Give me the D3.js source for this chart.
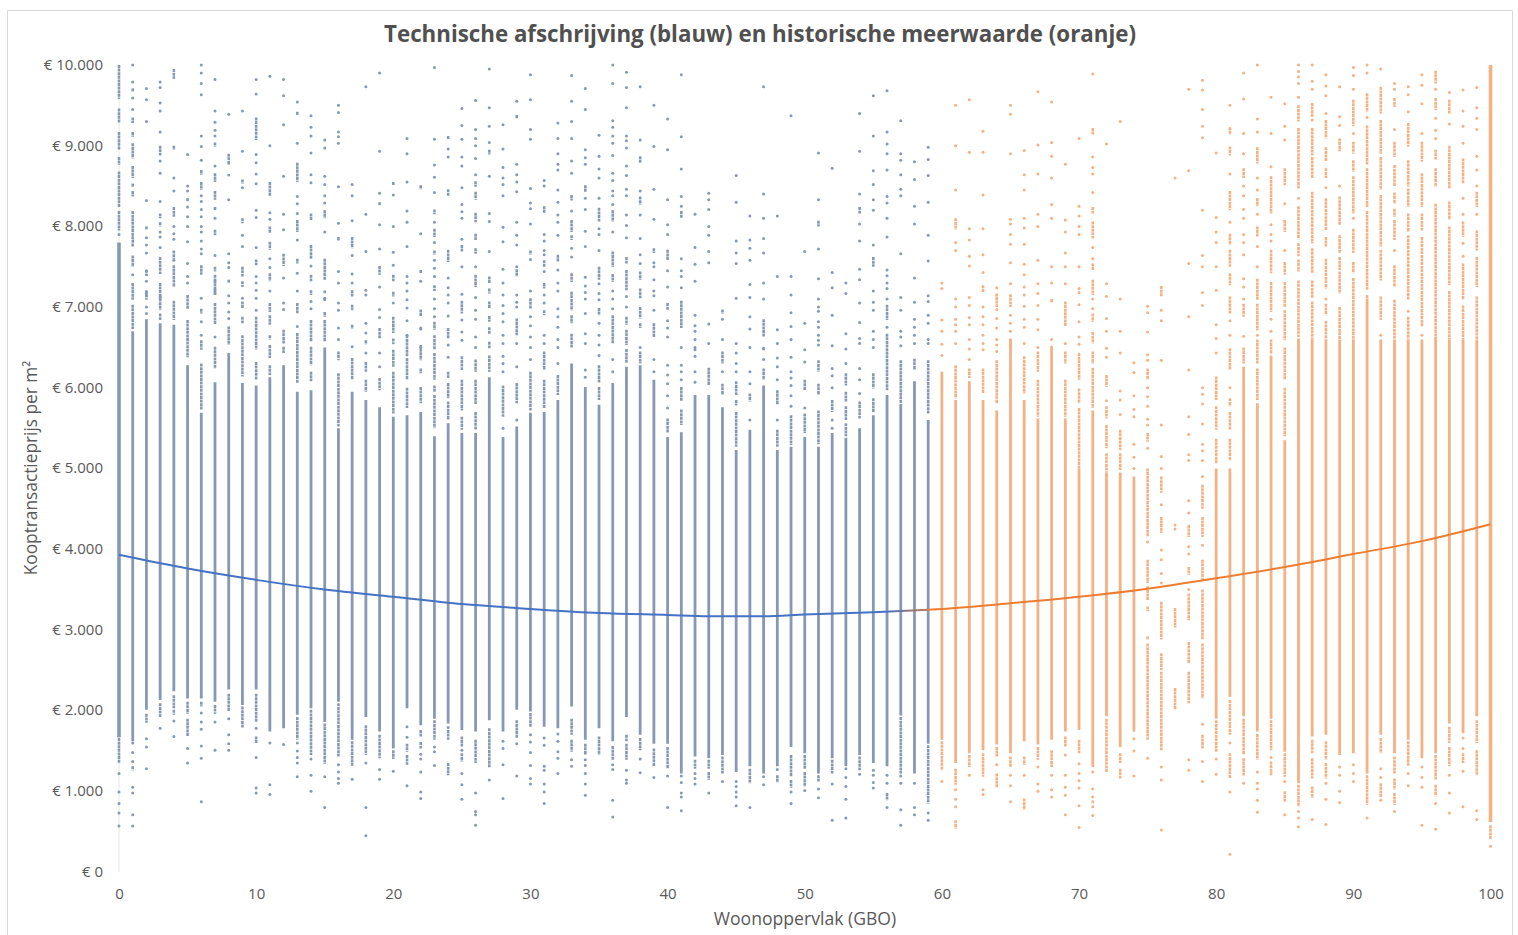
<!DOCTYPE html>
<html lang="nl">
<head>
<meta charset="utf-8">
<title>Technische afschrijving en historische meerwaarde</title>
<script src="https://cdn.jsdelivr.net/npm/d3@7"></script>
<style>
html,body{margin:0;padding:0;background:#fff;overflow:hidden}
svg{display:block}
text{font-family:"Open Sans",sans-serif;fill:#595959}
</style>
</head>
<body>
<svg id="c" width="1518" height="935"></svg>
<script>
// All values: euro per m2, in thousands. Index of each list = GBO (m2).
const titleText = "Technische afschrijving (blauw) en historische meerwaarde (oranje)";
const xTitle = "Woonoppervlak (GBO)";
const yTitle = "Kooptransactieprijs per m²";
const xTicks = [0,10,20,30,40,50,60,70,80,90,100];
const yTicks = [0,1,2,3,4,5,6,7,8,9,10];
const orangeFrom = 60;

// solid part of each column (null = no solid part)
const bandTop = [7.8,6.7,6.85,6.8,6.78,6.28,5.69,6.07,6.43,6.06,6.03,6.13,6.28,5.95,5.97,6.5,5.5,5.95,5.85,5.76,5.64,5.66,5.7,5.4,5.56,5.44,5.44,6.13,5.39,5.52,5.69,5.7,5.85,6.3,6.01,5.79,6.06,6.26,6.28,6.1,5.39,5.45,5.91,5.91,5.76,5.23,5.48,6.03,5.23,5.27,5.39,5.27,5.44,5.38,5.5,5.66,5.91,5.8,6.08,5.6,
6.2,5.85,6.08,5.85,5.72,6.61,5.85,5.62,6.52,5.62,5.0,5.72,4.95,4.95,4.9,null,null,null,null,null,5.0,5.0,6.26,5.81,6.4,5.35,6.61,6.6,6.6,6.6,6.6,7.1,6.6,6.6,6.6,6.6,6.63,6.6,6.6,6.6,10];
const bandBottom = [1.67,1.62,2.01,2.13,2.24,2.15,2.15,2.11,2.26,2.07,2.26,1.74,1.78,1.95,2.03,1.86,2.11,1.64,1.92,1.74,1.53,2.03,1.82,1.9,1.84,1.76,1.74,1.88,1.74,2.01,1.99,1.8,1.78,2.05,1.64,1.78,1.62,1.92,1.7,1.59,1.59,1.22,1.43,1.41,1.45,1.24,1.31,1.22,1.31,1.55,1.47,1.22,1.41,1.31,1.45,1.35,1.31,1.94,1.22,1.59,
1.64,1.35,1.47,1.51,1.58,1.47,1.62,1.58,1.64,1.74,1.76,1.3,1.93,1.55,1.74,null,null,null,null,null,1.9,2.17,1.93,1.74,1.9,1.49,1.1,1.68,1.7,1.45,1.47,1.22,1.7,1.47,1.64,1.41,1.47,1.84,1.72,1.93,0.62];

// marks above the solid part: a number is one dot, a pair is a short run of dots
const upperMarks = [
[[10,9.58],[9.46,9.28],[9.17,8.95],[8.86,8.76],[8.68,8.24],[8.19,7.95],7.9],
[10,9.79,[9.71,9.67],9.59,9.45,[9.35,9.28],[9.17,9.11],[9.03,8.84],[8.75,8.6],[8.53,8.49],[8.44,8.37],[8.19,7.75],[7.64,7.5],7.4,[7.3,7.09],[7.03,6.73]],
[9.71,9.57,9.3,8.32,[8,7.96],7.86,7.77,7.67,7.45,7.4,[7.2,7.09],7.44,7.32,[7.21,7.13],7,6.92],
[9.79,9.72,9.53,9.43,9.17,[9,8.88],8.81,8.66,8.31,[8.16,8.1],[8.05,8],7.93,7.87,7.74,[7.62,7.41],[7.3,7.09],[7.15,6.96],[6.92,6.84]],
[[9.95,9.83],[9,8.95],8.6,8.44,[8.24,8.12],8,7.91,7.84,[7.7,7.6],7.58,[7.52,7.25],[7.08,6.84]],
[8.89,8.5,8.44,[8.35,8.31],8.24,8.12,8,7.81,7.54,7.38,7.3,[7.15,6.97],[6.84,6.38]],
[10,9.9,9.77,9.63,9.12,8.99,8.82,[8.7,8.64],[8.55,8.45],8.38,8.31,8.21,8.12,8,7.93,7.82,7.72,7.66,[7.52,7.4],7.11,[6.98,6.92],6.82,6.65,[6.59,6.47],[6.3,5.73]],
[9.82,9.43,9.29,9.19,9.12,[9.04,8.99],8.75,[8.66,8.55],[8.44,8.33],[8.24,8.2],8.1,[7.96,7.89],7.64,[7.5,7.44],[7.4,7.3],[7.23,7.15],[7.34,7.15],[7.05,6.78],6.63,[6.51,6.24]],
[9.39,[8.9,8.76],[8.65,8.62],8.33,7.66,7.55,7.49,[7.34,7.3],7.14,7.05,6.94,6.86,[6.76,6.53]],
[9.43,8.93,[8.58,8.53],8.48,[8.1,8.04],7.89,7.75,[7.5,7.38],[7.32,7.25],7.11,[7.07,6.98],[6.88,6.8],[6.65,6.14]],
[9.82,9.64,[9.35,9.07],8.89,8.79,8.65,8.53,8.2,8.11,7.74,[7.59,7.52],7.38,7.3,7.21,7.11,6.96,[6.88,6.47],[6.32,6.1]],
[9.86,9,[8.55,8.37],8.17,8.09,[8,7.92],[7.81,7.71],7.6,7.49,[7.42,7.32],7.2,[7.05,6.94],[6.9,6.78],[6.65,6.6],[6.53,6.37],[6.28,6.16]],
[9.82,9.62,9.26,8.62,8.15,7.96,[7.66,7.51],7.36,7.05,6.97,[6.72,6.55],[6.51,6.43]],
[9.54,[9.42,9.38],9.03,[8.79,8.55],8.37,8.28,8.16,[8.08,7.93],7.83,[7.6,7.54],7.42,7.2,[7.05,6.92],6.76,[6.68,6.06]],
[9.37,9.23,9.12,8.91,8.64,8.54,[8.16,8.08],[7.77,7.6],7.51,[7.4,7.32],[7.21,7.15],7.07,6.98,[6.84,6.57],[6.51,6.28],[6.2,6.08]],
[9.07,8.97,8.62,8.52,8.38,8.29,[8.2,8.1],7.93,[7.6,7.34],7.19,7.11,7.09,[6.94,6.88],[6.84,6.57]],
[9.5,9.41,9.17,9.11,9.03,8.49,8.04,[7.87,7.82],7.44,7.3,7.05,6.96,6.74,6.6,[6.45,6.34],[6.18,5.52]],
[8.52,8.38,8.07,[7.87,7.73],7.64,7.41,7.3,[7.21,7.13],[7.03,6.96],[6.78,6.73],6.51,[6.37,6.1]],
[9.73,8.15,7.69,7.21,7.15,6.8,6.68,[6.59,6.54],6.43,[6.32,6.2],[6.1,5.95]],
[9.9,8.93,8.41,[8.3,8.26],8.02,7.72,[7.51,7.4],7.25,6.97,6.87,[6.74,6.61],6.43,6.26,[6.12,5.97]],
[[8.55,8.51],8.39,8,7.68,7.52,[7.4,7.32],[7.19,7.13],7.05,[6.88,6.68],[6.61,6.54],[6.47,6.26],[6.2,5.68]],
[9.09,8.9,8.55,8.19,8.05,7.75,7.38,7.3,7.2,7.09,6.99,6.83,6.65,[6.65,6.39],[6.37,6.1],[6,5.75]],
[[8.51,8.46],7.91,[7.46,7.42],7.32,[6.97,6.88],6.73,6.5,6.74,[6.53,6.34],[6.24,6.18],[6.01,5.81]],
[9.97,9.08,8.76,8.61,8.42,[8.21,8.15],8.05,[7.97,7.87],7.8,[7.7,7.65],7.58,7.48,7.38,[7.27,7.2],7.1,6.98,6.88,[6.82,6.72],[6.65,6.47],[6.43,6.1],[6.03,5.95],[5.91,5.5]],
[[9.12,9.08],8.96,8.86,[8.46,8.38],[7.71,7.56],7.36,7.24,7.15,7.05,6.89,[6.74,6.61],6.53,6.38,[6.2,6.12],[6.06,5.87],[5.83,5.6]],
[9.46,9.25,9.08,8.86,8.75,8.48,8.27,8.18,8.1,7.84,[7.77,7.69],7.5,7.16,[7.08,6.92],6.84,6.69,6.59,[6.39,6.22],[6.1,5.72],[5.64,5.48]],
[9.56,9.2,9.09,9,8.84,8.64,[8.56,8.49],[8.43,8.33],[8.17,8.05],[7.91,7.83],[7.73,7.66],7.5,[7.4,7.25],7.12,6.96,6.85,6.63,6.5,[6.35,6.2],[6.1,5.8],[5.7,5.48]],
[9.95,9.47,9.24,9.04,[8.95,8.89],8.62,8.16,8.06,7.69,[7.38,7.3],[7.23,7.17],[7.07,6.98],[6.89,6.82],[6.75,6.67],[6.57,6.49],[6.4,6.2]],
[9.26,8.96,8.73,8.6,8.52,8.38,7.99,7.81,7.47,7.3,7.15,7.02,6.92,6.82,6.65,6.55,6.39,6.3,6.2,[6.03,5.64],5.5],
[9.55,[9.38,9.33],8.77,8.64,8.55,8.43,8.05,7.89,7.77,7.5,[7.47,7.38],7.15,7.06,7,[6.86,6.65],6.55,6.26,[6.06,5.81],5.6],
[9.88,9.57,9.2,9.08,8.47,8.29,8.22,8.03,[7.7,7.65],7.59,7.2,[7.11,6.98],6.88,6.77,6.63,6.5,6.35,[6.2,5.72]],
[8.57,8.5,[8.25,8.16],7.9,7.82,7.7,7.65,[7.58,7.5],7.44,[7.3,7.23],7.15,7.05,[6.96,6.9],6.65,6.55,[6.45,6.22],[6.1,5.75]],
[9.28,9.09,8.9,8.77,8.7,8.45,8.3,8.14,8.05,7.89,[7.65,7.56],7.46,7.3,7.2,6.98,6.88,6.75,6.6,6.5,6.3,[6.16,5.91]],
[9.87,9.55,9.3,9.09,8.81,8.66,[8.39,8.32],8.19,[8.08,7.93],[7.89,7.83],7.73,7.62,[7.42,7.31],[7.19,6.96],[6.9,6.8],[6.67,6.5]],
[9.71,9.45,8.95,8.85,8.77,[8.51,8.43],8.35,8.21,7.94,7.75,7.37,7.26,7.18,7.1,6.92,6.67,6.55,6.22,6.13],
[9.13,8.87,8.71,8.6,8.35,[8.23,8.06],7.97,7.9,7.7,[7.5,7.34],7.29,7.17,7.09,[6.99,6.9],6.8,6.65,6.53,6.4,[6.28,6.06],[6.01,5.85]],
[10,9.77,9.31,9.23,9.12,9.03,8.88,8.66,8.57,8.44,8.38,8.27,[8.2,8.06],7.93,[7.69,7.5],[7.41,7.31],7.2,7.1,6.98,[6.9,6.55],6.35,6.2],
[9.91,9.72,9.47,9.12,9.06,8.97,8.75,8.63,8.46,8.38,8.14,8.01,7.86,[7.62,7.54],[7.46,7.21],7.13,7,[6.88,6.78],[6.72,6.53],[6.48,6.3]],
[9.73,9.07,[8.87,8.78],8.44,[8.37,8.27],8.14,7.85,7.65,7.54,[7.44,7.34],[7.23,7.11],[7,6.86],[6.8,6.74],6.5,[6.45,6.3]],
[9.5,8.99,8.46,8.09,[7.73,7.67],7.55,7.5,7.34,7.2,7.14,6.96,[6.8,6.63],6.35,6.2],
[9.33,8.95,8.33,8.02,7.9,[7.71,7.58],7.45,7.25,[7.05,6.96],6.83,6.74,6.63,6.28,6.16,6.05,5.9,5.75,[5.62,5.44]],
[9.88,9.11,8.71,8.37,8.25,[8.19,8.1],7.6,7.45,7.38,7.24,[7.08,6.74],6.5,6.28,6.2,6.1,[6.01,5.83],[5.73,5.54]],
[8.15,7.74,7.53,7.32,6.9,6.77,6.7,6.6,6.5,6.47,6.39,6.2,6.07],
[8.41,8.33,8.21,8,7.89,7.69,7.55,6.79,6.55,[6.25,6.03]],
[[6.97,6.92],6.85,6.6,[6.45,6.3],6.2,[6.05,5.91]],
[8.63,8.3,7.82,7.67,7.54,7.11,6.55,6.43,6.3,6.2,[6.08,5.91],[5.85,5.78],[5.7,5.27]],
[8.13,7.83,7.73,7.58,7.28,7.12,6.88,6.73,6.5,6.2,6.05,[5.93,5.83],5.6],
[9.73,8.4,8.1,7.85,7.67,7.3,7.1,[6.85,6.63],6.48,6.49,6.35,[6.24,6.1]],
[8.13,7.38,6.72,6.55,6.37,6.26,6.1,[5.97,5.79],5.6,[5.48,5.27]],
[9.37,7.38,7.15,6.93,6.76,6.6,6.38,6.2,6.12,6.03,5.9,5.77,[5.66,5.29]],
[7.69,6.8,6.47,6.32,[6.1,5.97],5.75,[5.68,5.44]],
[8.91,8.33,[8.07,8],7.72,7.35,7.1,7,6.95,6.82,6.75,6.65,6.59,6.53,[6.34,6.2],[6.05,5.91],[5.72,5.3]],
[8.72,7.43,7.24,6.9,6.52,6.24,6.15,6,[5.85,5.7],5.6,5.5],
[7.3,7.17,6.67,6.48,6.3,[6.18,6.03],[5.95,5.83],[5.77,5.6],[5.56,5.4]],
[9.4,8.93,8.4,[8.24,8.16],8.03,7.82,7.47,7.34,7.05,6.81,6.61,6.55,6.24,6.1,5.93,[5.83,5.62]],
[9.62,9.12,8.69,8.52,8.33,8.2,7.77,[7.62,7.5],7.2,7.06,6.96,6.7,6.6,6.5,[6.18,5.99],[5.87,5.7]],
[9.68,9.17,9.02,8.9,8.7,8.37,8.29,8.1,7.87,7.46,7.39,7.3,7.23,7.1,[7.03,6.84],6.75,[6.67,5.97]],
[9.31,8.9,8.82,8.64,8.46,8.38,7.66,7.12,6.96,6.7,6.63,6.52,[6.34,5.81]],
[8.8,8.58,8.25,8.03,7.36,7.06,6.85,6.75,6.65,6.55,[6.36,6.22]],
[8.98,8.83,8.63,8.3,7.89,7.57,7.14,7.07,6.9,6.8,6.6,6.55,[6.34,5.68]],
[7.3,7.23,6.84,6.7,6.54,6.4],
[9.5,9,8.45,[8.1,7.96],7.8,7.7,7.1,7,6.85,6.78,6.7,6.55,[6.28,5.87]],
[9.57,8.92,7.97,7.83,7.63,7.51,7.12,7.02,6.87,6.78,6.6,6.48,6.35,[6.24,6.12]],
[9.18,8.92,8.39,7.97,7.65,7.43,[7.27,7.18],7,6.88,6.78,6.65,6.55,6.47,[6.24,5.93]],
[7.24,[7.17,7],6.97,6.86,6.74,6.6,6.53,6.45,[6.34,5.81]],
[9.5,9.39,8.9,8.09,8.03,7.9,7.78,7.55,7.29,[7.16,7],6.9,6.8,6.7,[6.59,6.47]],
[8.94,8.64,8.45,8.1,7.98,7.78,7.53,7.4,7.25,7.15,7.01,6.85,6.75,6.55,[6.39,5.93]],
[9.67,9.01,8.65,8.15,8,7.58,7.29,7.17,7.02,6.85,6.72,6.5,[6.45,6.2],[6.1,5.64]],
[9.54,9.04,8.87,8.6,8.27,8.1,7.5,7.3,6.6,[7.1,7.05]],
[8.77,8.08,7.93,7.67,7.5,7.29,[7.07,6.76],6.55,[6.45,6.3],[6.1,5.64]],
[9.09,8.25,8.13,8,7.9,7.5,7.23,7.18,7.03,6.82,6.63,6.54,[6.43,6.1],[5.99,5.81],[5.75,5]],
[9.89,[9.22,9.13],8.86,8.73,8.65,8.42,[8.24,8.16],[8.06,7.85],7.74,7.6,[7.54,7.46],[7.34,7.15],7.1,6.98,[6.92,6.82],[6.69,6.55],[6.45,6.3],[6.25,5.75]],
[9.02,7.29,7.13,6.86,6.7,6.49,6.38,[6.16,6.01],5.84,[5.77,5.62],[5.54,5.25],[5.19,4.95]],
[9.3,7.1,6.7,6.43,5.96,5.85,5.67,[5.48,5.23],[5.19,4.98]],
[6.31,6.19,5.9,5.73,5.64,5.3,5.14,5],
[7.01,6.93,6.69,6.41,6.34,[6.24,6.1],6,5.89,5.77,5.61,5.54,[5.44,5.33],5.25,[5,4.15],4.09,[3.87,3.58],[3.54,3.37],[3.29,3.23],[2.92,2.88],[2.83,1.64],1.41],
[[7.26,7.13],6.96,6.83,6.34,5.54,5.15,5,[4.9,4.7],4.55,[4.4,4.2],3.99,3.87,3.7,3.58,[3.35,2.88],[2.71,2.5],[2.48,1.51],1.3,1.14,0.52],
[8.6,4.3,4.25,[3.27,3.03],[2.28,2.01]],
[9.7,8.69,7.54,6.88,6.22,5.64,5.42,5.17,5.1,4.6,4.45,[4.3,4.15],4.03,3.94,[3.78,3.68],3.5,[3.45,3.12],[2.85,2.59],[2.48,2.09],1.39,1.26],
[9.81,9.69,9.45,9.24,9.1,8.2,7.64,7.5,7.18,7.02,6,5.92,5.8,5.55,5.3,5.22,5.1,4.9,[4.8,4.5],[4.4,4.15],4.05,[3.87,3.6],[3.5,2.88],[2.83,2.15],1.83,[1.7,1.53],1.37,1.12],
[8.91,8.11,7.93,7.8,7.5,7.21,6.78,6.61,6.43,[6.14,5.85],[5.77,5.48],[5.37,5.06]],
[9.5,[9.23,9.14],[8.99,8.88],8.65,[8.44,8.2],8.05,[7.91,7.77],[7.71,7.5],[7.42,7.27],[7.13,6.92],6.83,6.65,[6.49,6.22],6,[5.87,5.77],[5.7,5.48],[5.37,5.1]],
[9.9,9.58,9.15,8.9,[8.72,8.6],8.5,8.38,8.21,8.1,7.9,7.8,7.65,7.35,7.25,7.1,[7.04,6.88],6.64,[6.5,6.3]],
[10,9.33,9.17,[8.98,8.78],8.6,8.45,[8.35,8.25],8.15,[8,7.87],7.75,7.5,[7.35,7.09],[7.04,6.71],6.65,[6.6,6.3],[6.24,5.85]],
[9.6,9.15,8.74,[8.62,8.16],8.02,7.9,7.82,[7.71,7.42],[7.31,6.94],6.85,6.7,[6.6,6.42]],
[9.52,9.24,9.07,[8.72,8.51],8.28,[8.08,7.93],7.7,[7.56,7.4],[7.31,7],[6.96,6.59],[6.5,6.1],[6,5.4]],
[10,9.92,9.85,9.77,9.6,[9.5,9.3],[9.22,8.47],8.35,[8.25,7.84],[7.79,7.63],[7.59,7.44],[7.33,6.63]],
[10,9.8,9.7,[9.53,9.36],9.32,[9.22,8.88],[8.86,8.6],[8.43,7.79],[7.73,7.42],[7.33,7.11],[7.07,6.6]],
[9.88,9.74,9.62,9.4,[9.32,9.09],[8.98,8.8],[8.72,8.6],8.48,[8.35,7.95],[7.87,7.75],[7.6,7.23],7.1,[7.04,6.9],[6.83,6.6]],
[9.73,9.36,9.25,[9.09,8.93],8.5,[8.37,8.02],[7.89,7.67],[7.62,7.46],[7.44,7.17],[7,6.6]],
[9.97,9.87,9.7,[9.57,9.24],9.15,[9.05,8.9],[8.82,8.68],[8.62,8.16],8.1,[7.97,7.67],[7.56,7.42],[7.36,6.6]],
[10,9.9,[9.65,9.42],9.35,[9.25,8.76],[8.72,8.24],[8.19,7.21],[7.15,7.1]],
[9.95,[9.73,9.4],[9.32,8.9],[8.86,8.45],[8.39,7.75],[7.71,7.33],[7.13,6.84],6.65],
[9.77,9.7,[9.59,9.48],9.2,[9.05,8.86],[8.76,8.49],[8.42,8.28],[8.22,8.12],[8.08,7.83],7.7,[7.52,7.25],[7.09,6.6]],
[9.73,9.63,9.42,[9.28,8.99],[8.82,8.49],[8.47,8.24],[8.16,7.93],[7.89,7.09],6.95,[6.88,6.6]],
[9.88,9.75,9.52,9.15,[9.05,8.8],[8.66,8.24],[8.16,7.95],[7.87,6.76],6.65],
[[9.93,9.77],9.7,[9.59,9.44],9.34,9.19,9.09,[8.95,8.83],[8.72,8.49],[8.28,6.63]],
[9.66,[9.57,9.4],9.27,[9,8.47],[8.31,8.08],[8,7.27],[7.2,6.6]],
[9.69,9.43,9.24,9.03,[8.84,8.53],8.35,8.15,[8.06,7.87],7.79,7.63,[7.54,7.09],[7.02,6.6]],
[9.72,9.47,9.34,9.2,8.87,8.7,8.5,[8.43,8.24],8.15,[7.95,7.7],[7.62,7.25],[7.13,6.6]],
[]
];

// marks below the solid part
const lowerMarks = [
[[1.66,1.35],1.22,0.99,0.85,0.73,0.57],
[1.6,1.48,1.37,[1.31,1.26],1.05,0.98,0.71,0.57],
[[1.96,1.85],1.65,1.55,1.28],
[[2.09,1.92],1.78],
[[2.19,2.03],[2.01,1.95],1.87,1.68],
[[2.11,1.96],[1.9,1.68],1.53,1.35],
[[2.11,2.05],1.97,1.86,1.77,1.56,1.41,0.87],
[[2.07,1.96],1.86,1.51],
[[2.21,1.99],1.9,1.7,1.59,1.51],
[[2.05,1.79]],
[[2.21,1.86],1.78,[1.68,1.6],1.42,1.04,0.98],
[1.6,1.08,0.96],
[1.58],
[[1.92,1.64],1.6,1.5,1.42,1.35,1.18],
[[2.01,1.45],1.4,1.2,1],
[[1.84,1.34],1.18,0.8],
[[2.09,1.43],1.33,1.24,1.16,1.1],
[[1.62,1.31],1.15],
[[1.82,1.45],1.35,0.8,0.45],
[[1.7,1.41],1.27,1.15],
[[1.51,1.4],1.25],
[1.8,1.67,[1.59,1.49],[1.45,1.33],1.07],
[[1.76,1.68],[1.61,1.53],1.46,1.4,1.24,0.99,0.91],
[[1.88,1.64],1.55,1.49,1.32],
[1.79,[1.76,1.64],[1.35,1.2]],
[[1.68,1.55],1.51,[1.47,1.37],1.22,1.08,0.9],
[[1.64,1.35],0.98,0.75,0.71,0.58],
[[1.78,1.29],1.14],
[1.62,1.53,1.33,0.91],
[[1.88,1.66],1.59,1.19],
[[1.97,1.8],1.7,1.61,1.48,1.32,1.16,1.09],
[1.66,1.57,1.31,1.26,1.09,0.99,0.85],
[1.71,1.62,1.49,1.41,1.22],
[[1.9,1.7],[1.64,1.49],1.39,1.31],
[[1.59,1.45],1.39,1.32,1.22,1.09,0.95],
[[1.68,1.45]],
[[1.56,1.39],1.33,1.27,0.89,0.68],
[[1.7,1.62],[1.59,1.39],1.26,1.14,1.1],
[[1.66,1.51],1.4,1.23],
[[1.53,1.31],1.17],
[[1.55,1.28],1.19,0.8],
[1.19,1.11,0.98,0.93,0.76],
[[1.39,1.28],1.22,1.16,1.09],
[[1.39,1.28],[1.24,1.14],0.98],
[[1.43,1.22],1.12],
[1.12,1.06,0.99,0.93,0.82],
[[1.28,1.1],0.8],
[1.18,1.08],
[1.27,[1.2,1.11]],
[[1.45,1.18],[1.14,1.04],0.99,0.85],
[[1.45,1.28],[1.24,1.06],1.01],
[[1.2,1.12],1.03,0.92],
[[1.39,1.22],1.09,0.64],
[1.28,1.17,1.06,0.9,0.67],
[[1.43,1.26],1.21],
[1.26,1.2,1.11,1.04],
[1.2,1.1,[0.98,0.89],0.8],
[[1.92,1.22],1.19,1.1,0.77,0.58],
[1.1,0.8,0.71],
[[1.57,0.85],0.73,0.64],
[[1.62,1.26],1.12],
[[1.28,1.08],1.02,0.9,0.81,[0.64,0.54]],
[[1.45,1.3],1.2],
[[1.47,1.18],1.02,0.96],
[[1.55,1.43],1.33,[1.22,1.04]],
[[1.43,1.3],1.2,1.07,0.87],
[[1.43,1.33],1.2,[0.91,0.77]],
[[1.55,1.39],1.3,1.09,1],
[[1.51,1.3],1.2,1.02,0.93],
[[1.68,1.55],1.45,1.2,1.05,0.95,0.71],
[[1.64,1.47],1.34,1.22,1.13,1.04,0.82,0.55],
[1.24,1.03,0.93,0.87,0.81,0.7],
[[1.9,1.24]],
[[1.47,1.35],[1.28,1.16]],
[1.65,1.5,1.19],
[],[],[],[],[],
[[1.88,1.49],1.4,1.21],
[[2.13,1.7],1.6,[1.47,1.16],0.99,0.22],
[[1.9,1.45],[1.41,1.19],1.1],
[[1.71,1.39],1.24,1.1,1.03,0.89,0.74],
[[1.88,1.51],1.42,[1.37,1.2]],
[[1.47,1.18],1.12,[1,0.87],0.71],
[[1.08,0.81],0.75,0.67,0.56],
[[1.64,1.47],[1.41,1.16],[1.06,0.92],0.65],
[[1.62,1.39],[1.35,1.16],1.1,0.9,0.59],
[1.3,1.2,1,0.86],
[1.33,1.22,1.12],
[[1.2,0.83],0.67],
[[1.66,1.47],1.28,1.17,[1.1,0.93],0.89],
[[1.43,1.22],[1.16,1.02],[0.98,0.83],0.75],
[[1.62,1.31],1.22,1.07],
[1.3,1.17,1.05,0.58],
[[1.45,1.14],[1.08,0.94],0.85,0.53],
[[1.8,1.6],[1.55,1.31],1.2,0.98,0.73],
[1.66,1.53,[1.47,1.35],1.25,0.81],
[[1.88,1.6],[1.51,1.2],0.76,0.65],
[[0.58,0.41],0.32]
];

// trend curves
const blueTrendX = [0,5,10,15,20,25,30,35,40,43,47,50,55,59];
const blueTrendV = [3.93,3.76,3.62,3.5,3.41,3.32,3.26,3.21,3.185,3.17,3.17,3.19,3.22,3.25];
const orangeTrendX = [59,60,65,70,75,80,85,90,95,100];
const orangeTrendV = [3.25,3.26,3.33,3.41,3.51,3.64,3.78,3.94,4.1,4.31];

const blueDot = "#8599b5", orangeDot = "#f4b183";
const blueLine = "#4472c4", orangeLine = "#ed7d31";

const svg = d3.select("#c");
const x = d3.scaleLinear().domain([0,100]).range([119,1490.5]);
const y = d3.scaleLinear().domain([0,10]).range([872,65]);
const money = v => "€ " + (v === 0 ? "0" : (v*1000).toLocaleString("de-DE"));

// outer frame (bottom edge lies outside the picture)
svg.append("path").attr("d","M7.5,935V10.5H1512.5V935").attr("fill","none").attr("stroke","#d9d9d9");

// faint vertical axis
svg.append("line").attr("x1",x(0)).attr("x2",x(0)).attr("y1",y(10)).attr("y2",y(0)).attr("stroke","#e6e6e6");

const colour = g => g < orangeFrom ? blueDot : orangeDot;
const columns = d3.range(0,101);

// solid bands
svg.append("g").selectAll("line").data(columns.filter(g => bandTop[g] !== null)).join("line")
  .attr("x1",g=>x(g)).attr("x2",g=>x(g))
  .attr("y1",g=>y(bandTop[g])).attr("y2",g=>y(bandBottom[g]))
  .attr("stroke",colour).attr("stroke-width",g=>(g===0||g===100)?3.6:2.8);

// scattered marks
const marks = [];
columns.forEach(g => {
  [...upperMarks[g], ...lowerMarks[g]].forEach(m => marks.push({g, m}));
});
const gMarks = svg.append("g");
gMarks.selectAll("circle").data(marks.filter(d => typeof d.m === "number")).join("circle")
  .attr("cx",d=>x(d.g)).attr("cy",d=>y(d.m)).attr("r",1.5).attr("fill",d=>colour(d.g));
gMarks.selectAll("line").data(marks.filter(d => typeof d.m !== "number")).join("line")
  .attr("x1",d=>x(d.g)).attr("x2",d=>x(d.g))
  .attr("y1",d=>y(d.m[0])).attr("y2",d=>y(d.m[1]))
  .attr("stroke",d=>colour(d.g)).attr("stroke-width",2.6).attr("stroke-dasharray","3 0.6");

// trends: the blue curve fades into the orange one near GBO 60
const defs = svg.append("defs");
const grad = defs.append("linearGradient").attr("id","fade").attr("gradientUnits","userSpaceOnUse")
  .attr("x1",x(56)).attr("x2",x(60)).attr("y1",0).attr("y2",0);
grad.append("stop").attr("offset",0).attr("stop-color",blueLine);
grad.append("stop").attr("offset",1).attr("stop-color",orangeLine);
const trend = (xs,vs,c) => svg.append("path")
  .attr("d", d3.line().x((d,i)=>x(xs[i])).y(d=>y(d)).curve(d3.curveMonotoneX)(vs))
  .attr("fill","none").attr("stroke",c).attr("stroke-width",2);
trend(blueTrendX,blueTrendV,"url(#fade)");
trend(orangeTrendX,orangeTrendV,orangeLine);

// axes
const yAxis = d3.axisLeft(y).tickValues(yTicks).tickFormat(money).tickSize(0).tickPadding(16);
const gy = svg.append("g").attr("transform",`translate(${x(0)},-0.5)`).call(yAxis);
gy.select(".domain").remove();
gy.selectAll("text").attr("font-size",15).attr("font-family",'"Open Sans",sans-serif').style("fill","#595959");

const xAxis = d3.axisBottom(x).tickValues(xTicks).tickFormat(d3.format("d")).tickSize(0).tickPadding(16);
const gx = svg.append("g").attr("transform",`translate(0,${y(0)})`).call(xAxis);
gx.select(".domain").remove();
gx.selectAll("text").attr("font-size",15).attr("font-family",'"Open Sans",sans-serif').style("fill","#595959");

// titles
svg.append("text").attr("x",760).attr("y",42).attr("text-anchor","middle")
  .attr("font-size",22.3).attr("font-weight",700).style("fill","#505050").text(titleText);
svg.append("text").attr("x",805).attr("y",925).attr("text-anchor","middle")
  .attr("font-size",17.6).text(xTitle);
svg.append("text").attr("transform","translate(37,468) rotate(-90)").attr("text-anchor","middle")
  .attr("font-size",17.3).text(yTitle);
</script>
</body>
</html>
